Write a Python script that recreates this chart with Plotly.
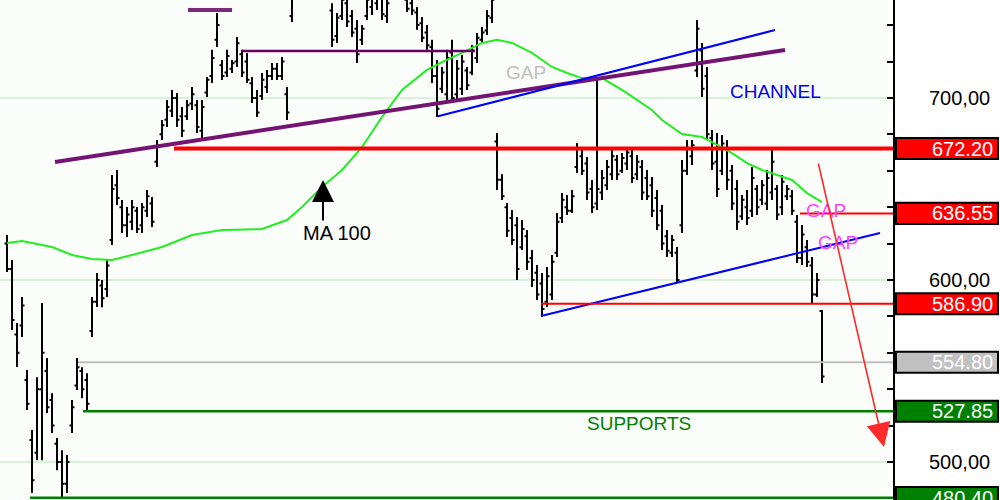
import plotly.graph_objects as go

# ---------------- data ----------------
bar_index = list(range(164))

high = [624.7, 611.0, 576.3, 590.6, 550.5, 517.5, 546.6, 587.3, 557.1, 537.8,
        513.1, 506.5, 503.8, 534.0, 557.1, 552.0, 548.8, 590.6, 603.8, 600.0,
        611.0, 657.6, 660.4, 643.9, 640.1, 643.9, 640.1, 642.3, 649.4, 645.6,
        676.9, 687.9, 698.9, 704.4, 702.7, 695.0, 698.9, 706.0, 698.9, 698.9,
        711.5, 726.4, 746.7, 720.9, 726.4, 720.9, 733.5, 726.4, 724.7, 711.5,
        704.4, 713.7, 715.4, 719.2, 719.2, 722.5, 706.0, 760.0, 768.0, 772.0,
        778.0, 781.0, 776.0, 771.0, 766.0, 752.0, 746.7, 758.0, 756.0, 748.3,
        742.8, 740.1, 757.0, 762.0, 765.0, 760.0, 758.0, 768.0, 770.0, 762.0,
        756.0, 754.5, 750.0, 744.5, 740.1, 731.9, 720.9, 717.0, 726.4, 731.9,
        720.9, 723.6, 717.0, 729.1, 735.7, 739.0, 748.3, 757.0, 680.7, 658.0,
        642.3, 638.4, 634.6, 632.9, 627.4, 616.4, 608.2, 603.8, 607.1, 613.7,
        636.8, 647.7, 646.6, 649.4, 675.2, 671.4, 667.5, 654.9, 711.0, 660.4,
        665.9, 671.4, 668.6, 669.7, 671.4, 671.4, 668.6, 665.9, 660.4, 656.5,
        649.4, 641.2, 627.4, 624.7, 618.1, 665.9, 676.9, 676.9, 742.8, 730.2,
        717.0, 682.4, 680.7, 679.6, 676.9, 663.1, 654.9, 646.6, 649.4, 662.0,
        652.1, 654.9, 660.4, 671.4, 652.1, 657.6, 652.1, 649.4, 635.7, 630.2,
        621.9, 612.6, 603.8, 583.5]

low = [604.4, 572.5, 552.2, 568.6, 528.5, 482.9, 501.0, 501.0, 526.9, 515.9,
       495.5, 480.5, 482.9, 515.9, 539.5, 535.0, 528.5, 568.6, 585.1, 585.0,
       590.6, 619.2, 641.2, 625.8, 623.6, 627.4, 625.8, 625.8, 634.6, 629.1,
       662.0, 676.9, 684.0, 689.5, 684.0, 678.5, 687.9, 693.4, 680.7, 676.9,
       700.5, 708.2, 728.0, 709.9, 711.5, 713.7, 717.0, 711.5, 708.2, 697.2,
       689.5, 698.9, 702.7, 709.9, 709.9, 709.9, 687.9, 741.7, 756.0, 759.0,
       762.0, 766.0, 762.0, 757.0, 755.0, 728.0, 730.2, 742.8, 739.0, 733.5,
       719.2, 729.1, 742.8, 745.6, 748.3, 742.8, 741.2, 756.0, 757.0, 755.0,
       747.2, 745.6, 737.4, 730.7, 726.4, 708.2, 689.5, 702.7, 698.9, 697.2,
       698.9, 701.6, 704.4, 712.6, 719.2, 730.2, 734.6, 741.2, 649.4, 643.9,
       623.6, 619.2, 600.0, 616.4, 605.5, 596.1, 589.0, 579.6, 585.1, 589.0,
       612.6, 631.3, 635.7, 636.8, 658.7, 657.6, 643.9, 636.8, 638.4, 643.9,
       649.4, 654.9, 654.9, 658.7, 660.4, 653.2, 654.9, 643.9, 643.9, 634.6,
       627.4, 616.4, 612.6, 612.6, 598.3, 625.8, 657.6, 663.1, 711.5, 700.5,
       676.9, 660.4, 645.6, 657.6, 649.4, 638.4, 627.4, 632.9, 630.2, 634.6,
       635.7, 641.2, 638.4, 643.9, 632.9, 635.7, 643.9, 635.7, 609.3, 608.2,
       607.1, 587.3, 590.6, 543.4]

open_ = [620, 606, 570, 575, 545, 512, 505, 540, 550, 534,
         510, 500, 488, 520, 542, 550, 545, 572, 588, 597,
         595, 622, 652, 640, 630, 632, 638, 630, 638, 642,
         665, 680, 688, 693, 700, 690, 690, 697, 696, 682,
         703, 712, 732, 718, 714, 716, 720, 724, 720, 708,
         700, 701, 706, 712, 716, 712, 702, 745, 758, 762,
         765, 770, 774, 768, 762, 748, 734, 745, 752, 745,
         738, 732, 745, 750, 752, 756, 745, 758, 760, 760,
         754, 752, 747, 741, 736, 728, 712, 705, 702, 725,
         702, 705, 715, 714, 722, 732, 737, 744, 676, 655,
         640, 634, 630, 618, 624, 612, 604, 598, 588, 592,
         615, 634, 640, 638, 662, 668, 664, 650, 642, 648,
         652, 658, 666, 660, 664, 668, 658, 662, 656, 652,
         645, 638, 624, 615, 615, 630, 660, 668, 715, 726,
         712, 678, 665, 660, 672, 660, 650, 635, 640, 638,
         650, 644, 642, 648, 650, 640, 646, 646, 632, 612,
         618, 608, 592, 583]

close = [606, 578, 560, 586, 532, 490, 540, 560, 530, 520,
         500, 488, 500, 530, 552, 540, 532, 588, 600, 590,
         608, 650, 645, 630, 636, 640, 628, 640, 646, 632,
         674, 685, 695, 700, 688, 682, 696, 702, 684, 695,
         710, 722, 740, 712, 723, 719, 730, 714, 710, 700,
         692, 710, 712, 716, 712, 720, 692, 755, 765, 768,
         775, 778, 766, 760, 757, 732, 744, 754, 742, 736,
         724, 738, 754, 758, 762, 746, 752, 765, 766, 757,
         749, 748, 740, 733, 729, 712, 694, 714, 722, 700,
         716, 720, 707, 726, 733, 736, 745, 754, 655, 646,
         627, 622, 606, 628, 610, 600, 592, 584, 602, 610,
         632, 644, 638, 646, 672, 660, 648, 640, 650, 656,
         662, 668, 658, 667, 670, 656, 665, 648, 646, 638,
         630, 620, 616, 622, 600, 660, 672, 674, 738, 705,
         680, 664, 650, 675, 655, 642, 632, 644, 634, 656,
         640, 652, 656, 665, 636, 654, 650, 638, 612, 625,
         610, 592, 600, 547]

ma_index = [0, 3, 9, 13, 17, 21, 25, 31, 37, 43, 51, 56, 59, 63, 67, 71, 75,
            79, 84, 87, 91, 95, 98, 101, 105, 109, 112, 115, 119, 123, 129,
            131, 135, 139, 141, 145, 148, 151, 157, 160, 163]
ma_100 = [620.3, 621.4, 618.1, 613.7, 611.5, 611.0, 613.7, 618.1, 624.7,
          627.4, 628.0, 632.9, 640.1, 651.0, 660.4, 673.0, 689.5, 704.4,
          715.4, 719.7, 724.7, 730.2, 731.9, 730.2, 724.7, 717.0, 713.7,
          710.9, 710.9, 704.4, 693.4, 687.9, 680.2, 678.5, 675.7, 669.7,
          664.2, 660.4, 654.9, 647.7, 642.8]

level_values = [672.20, 636.55, 586.90, 554.80, 527.85, 480.40]
level_labels = ["672.20", "636.55", "586.90", "554.80", "527.85", "480.40"]
level_colors = ["#ff0000", "#ff0000", "#ff0000", "#c0c0c0", "#008000", "#008000"]
level_start = [33.4, 158.6, 106.8, 14.2, 15.2, 4.6]
level_width = [4, 2, 2, 2, 2.5, 2.5]

tick_values = [500, 600, 700]
tick_labels = ["500,00", "600,00", "700,00"]

X_MIN, X_MAX = -1.4, 177.2
Y_MIN, Y_MAX = 479.1, 753.8
FONT = "Liberation Sans, Arial, sans-serif"

fig = go.Figure()

fig.add_trace(go.Scatter(
    x=ma_index, y=ma_100, mode="lines",
    line=dict(color="#22ee22", width=2), hoverinfo="skip", showlegend=False))

fig.add_trace(go.Ohlc(
    x=bar_index, open=open_, high=high, low=low, close=close,
    increasing=dict(line=dict(color="black", width=2)),
    decreasing=dict(line=dict(color="black", width=2)),
    tickwidth=0.5, showlegend=False))

shapes = []
# trend lines
shapes.append(dict(type="line", xref="x", yref="y", x0=9.6, y0=664.8, x1=155.6, y1=726.3,
                   line=dict(color="#731473", width=4)))
shapes.append(dict(type="line", xref="x", yref="y", x0=36.2, y0=748.3, x1=45.0, y1=748.3,
                   line=dict(color="#7a2a7a", width=4)))
shapes.append(dict(type="line", xref="x", yref="y", x0=47.0, y0=725.8, x1=93.6, y1=725.8,
                   line=dict(color="#660066", width=2.5)))
shapes.append(dict(type="line", xref="x", yref="y", x0=86.2, y0=689.9, x1=153.6, y1=737.3,
                   line=dict(color="#0000ff", width=2)))
shapes.append(dict(type="line", xref="x", yref="y", x0=106.8, y0=580.2, x1=174.6, y1=625.8,
                   line=dict(color="#0000ff", width=2)))

# horizontal levels + value boxes
annotations = []
for v, lab, col, x0, w in zip(level_values, level_labels, level_colors, level_start, level_width):
    shapes.append(dict(type="line", xref="x", yref="y", x0=x0, y0=v, x1=X_MAX, y1=v,
                       line=dict(color=col, width=w)))
    shapes.append(dict(type="rect", xref="paper", yref="y", x0=0.896, x1=0.998,
                       y0=v - 5.8, y1=v + 5.8, fillcolor=col,
                       line=dict(color="black", width=2), layer="above"))
    annotations.append(dict(xref="paper", yref="y", x=0.995, y=v, text=lab,
                            showarrow=False, xanchor="right", yanchor="middle",
                            font=dict(family=FONT, size=20, color="white")))

# text labels
annotations += [
    dict(x=103.8, y=713.7, text="GAP", showarrow=False,
         font=dict(family=FONT, size=19, color="#c0c0c0")),
    dict(x=153.6, y=703.8, text="CHANNEL", showarrow=False,
         font=dict(family=FONT, size=19, color="#0000ee")),
    dict(x=126.4, y=521.4, text="SUPPORTS", showarrow=False,
         font=dict(family=FONT, size=19, color="#008000")),
    dict(x=163.8, y=637.9, text="GAP", showarrow=False,
         font=dict(family=FONT, size=19, color="#ff44ff")),
    dict(x=166.2, y=620.3, text="GAP", showarrow=False,
         font=dict(family=FONT, size=19, color="#ff44ff")),
    dict(x=66.0, y=625.8, text="MA 100", showarrow=False,
         font=dict(family=FONT, size=20, color="black")),
    # MA 100 pointer
    dict(x=63.2, y=654.9, text="", showarrow=True, ax=0, ay=42,
         arrowcolor="black", arrowwidth=2, arrowhead=2, arrowsize=2.2),
    # red projection arrow
    dict(x=175.4, y=508.2, text="", showarrow=True, ax=-66, ay=-285,
         arrowcolor="#ff2a2a", arrowwidth=1.6, arrowhead=2, arrowsize=3),
]

fig.update_layout(
    width=1000, height=500,
    margin=dict(l=0, r=0, t=0, b=0),
    paper_bgcolor="white",
    plot_bgcolor="#fafdfa",
    showlegend=False,
    shapes=shapes,
    annotations=annotations,
    xaxis=dict(range=[X_MIN, X_MAX], domain=[0, 0.893], visible=False,
               rangeslider=dict(visible=False), fixedrange=True),
    yaxis=dict(range=[Y_MIN, Y_MAX], side="right",
               tickvals=tick_values, ticktext=tick_labels,
               ticks="inside", ticklen=6, tickwidth=2, tickcolor="black",
               showline=True, linecolor="black", linewidth=2,
               showgrid=True, gridcolor="#d8f2d8", gridwidth=2,
               zeroline=False, ticklabelstandoff=30,
               minor=dict(dtick=20, tick0=0, ticks="inside", ticklen=6,
                          tickcolor="black", tickwidth=2, showgrid=False),
               tickfont=dict(family=FONT, size=20, color="black")),
)

fig.write_html("out.html", config={"displayModeBar": False},
               post_script="document.body.style.margin='0';document.body.style.overflow='hidden';")
